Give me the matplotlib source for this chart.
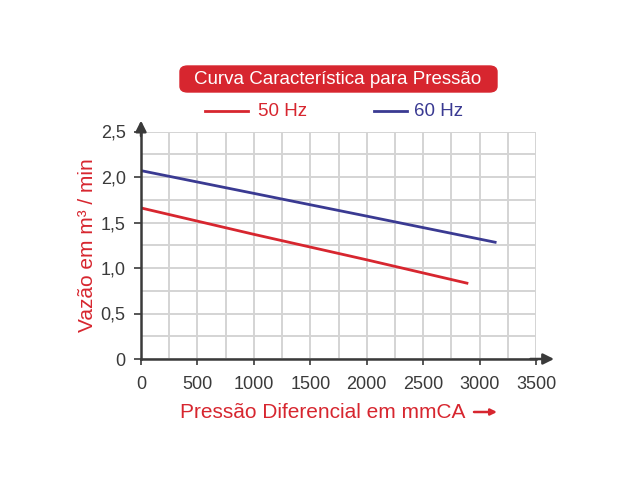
import matplotlib
matplotlib.use("Agg")
import matplotlib.pyplot as plt
from matplotlib.patches import FancyBboxPatch
import numpy as np

plt.rcParams['font.family'] = ['Liberation Sans', 'DejaVu Sans']

# data
pressao_50 = [0, 1000, 2000, 2900]
vazao_50 = [1.66, 1.37, 1.09, 0.83]
pressao_60 = [0, 1000, 2000, 3150]
vazao_60 = [2.07, 1.82, 1.57, 1.28]

x_ticks = [0, 500, 1000, 1500, 2000, 2500, 3000, 3500]
y_ticks = [0, 0.5, 1.0, 1.5, 2.0, 2.5]
y_labels = ["0", "0,5", "1,0", "1,5", "2,0", "2,5"]

RED = "#d7262f"
BLUE = "#3a3a92"
DARK = "#3a3a3a"

fig = plt.figure(figsize=(6.4, 4.8), dpi=100)
ax = fig.add_axes([141/640, 1 - 359/480, (536 - 141)/640, (359 - 131.5)/480])

ax.set_xlim(0, 3500)
ax.set_ylim(0, 2.5)

# grid every 250 / 0.25
ax.set_xticks(np.arange(0, 3501, 250), minor=True)
ax.set_yticks(np.arange(0, 2.51, 0.25), minor=True)
ax.grid(True, which='both', color="#d4d4d4", linewidth=1.4)
ax.tick_params(which='minor', length=0)
ax.set_axisbelow(True)

ax.plot(pressao_50, vazao_50, color=RED, linewidth=2, solid_capstyle='butt')
ax.plot(pressao_60, vazao_60, color=BLUE, linewidth=2, solid_capstyle='butt')

ax.set_xticks(x_ticks)
ax.set_xticklabels([str(v) for v in x_ticks])
ax.set_yticks(y_ticks)
ax.set_yticklabels(y_labels)
ax.tick_params(axis='both', which='major', labelsize=13, colors=DARK, width=1.2)
ax.tick_params(axis='x', length=4, pad=8)
ax.tick_params(axis='y', length=5, pad=6)

for s in ['top', 'right']:
    ax.spines[s].set_visible(False)
for s in ['left', 'bottom']:
    ax.spines[s].set_color(DARK)
    ax.spines[s].set_linewidth(1.8)

# axis arrows
ax.annotate("", xy=(3660, 0), xytext=(3450, 0), annotation_clip=False,
            arrowprops=dict(arrowstyle="-|>", color=DARK, lw=1.8,
                            mutation_scale=16, shrinkA=0, shrinkB=0))
ax.annotate("", xy=(0, 2.62), xytext=(0, 2.45), annotation_clip=False,
            arrowprops=dict(arrowstyle="-|>", color=DARK, lw=1.8,
                            mutation_scale=16, shrinkA=0, shrinkB=0))

ax.set_ylabel("Vazão em m³ / min", color=RED, fontsize=15, labelpad=3)
fig.text(180/640, 1 - 412/480, "Pressão Diferencial em mmCA", color=RED,
         fontsize=15, ha='left', va='center')
fig.add_artist(matplotlib.patches.FancyArrowPatch(
    (474/640, 1 - 412/480), (497/640, 1 - 412/480), transform=fig.transFigure,
    arrowstyle="-|>", mutation_scale=9, color=RED, lw=1.8, shrinkA=0, shrinkB=0))

# title box
fig.add_artist(FancyBboxPatch((180/640, 1 - 92/480), (497 - 180)/640, 26/480,
                              boxstyle="round,pad=0,rounding_size=0.012",
                              transform=fig.transFigure, fc=RED, ec=RED))
fig.text(338/640, 1 - 79/480, "Curva Característica para Pressão", color="white",
         fontsize=13.5, ha='center', va='center')

# legend
fig.add_artist(plt.Line2D([205/640, 248/640], [1 - 111/480] * 2, color=RED, lw=2))
fig.text(258/640, 1 - 111/480, "50 Hz", color=RED, fontsize=13.5, va='center')
fig.add_artist(plt.Line2D([374/640, 407/640], [1 - 111/480] * 2, color=BLUE, lw=2))
fig.text(414/640, 1 - 111/480, "60 Hz", color=BLUE, fontsize=13.5, va='center')

fig.savefig("out.png", dpi=100, facecolor="white")
